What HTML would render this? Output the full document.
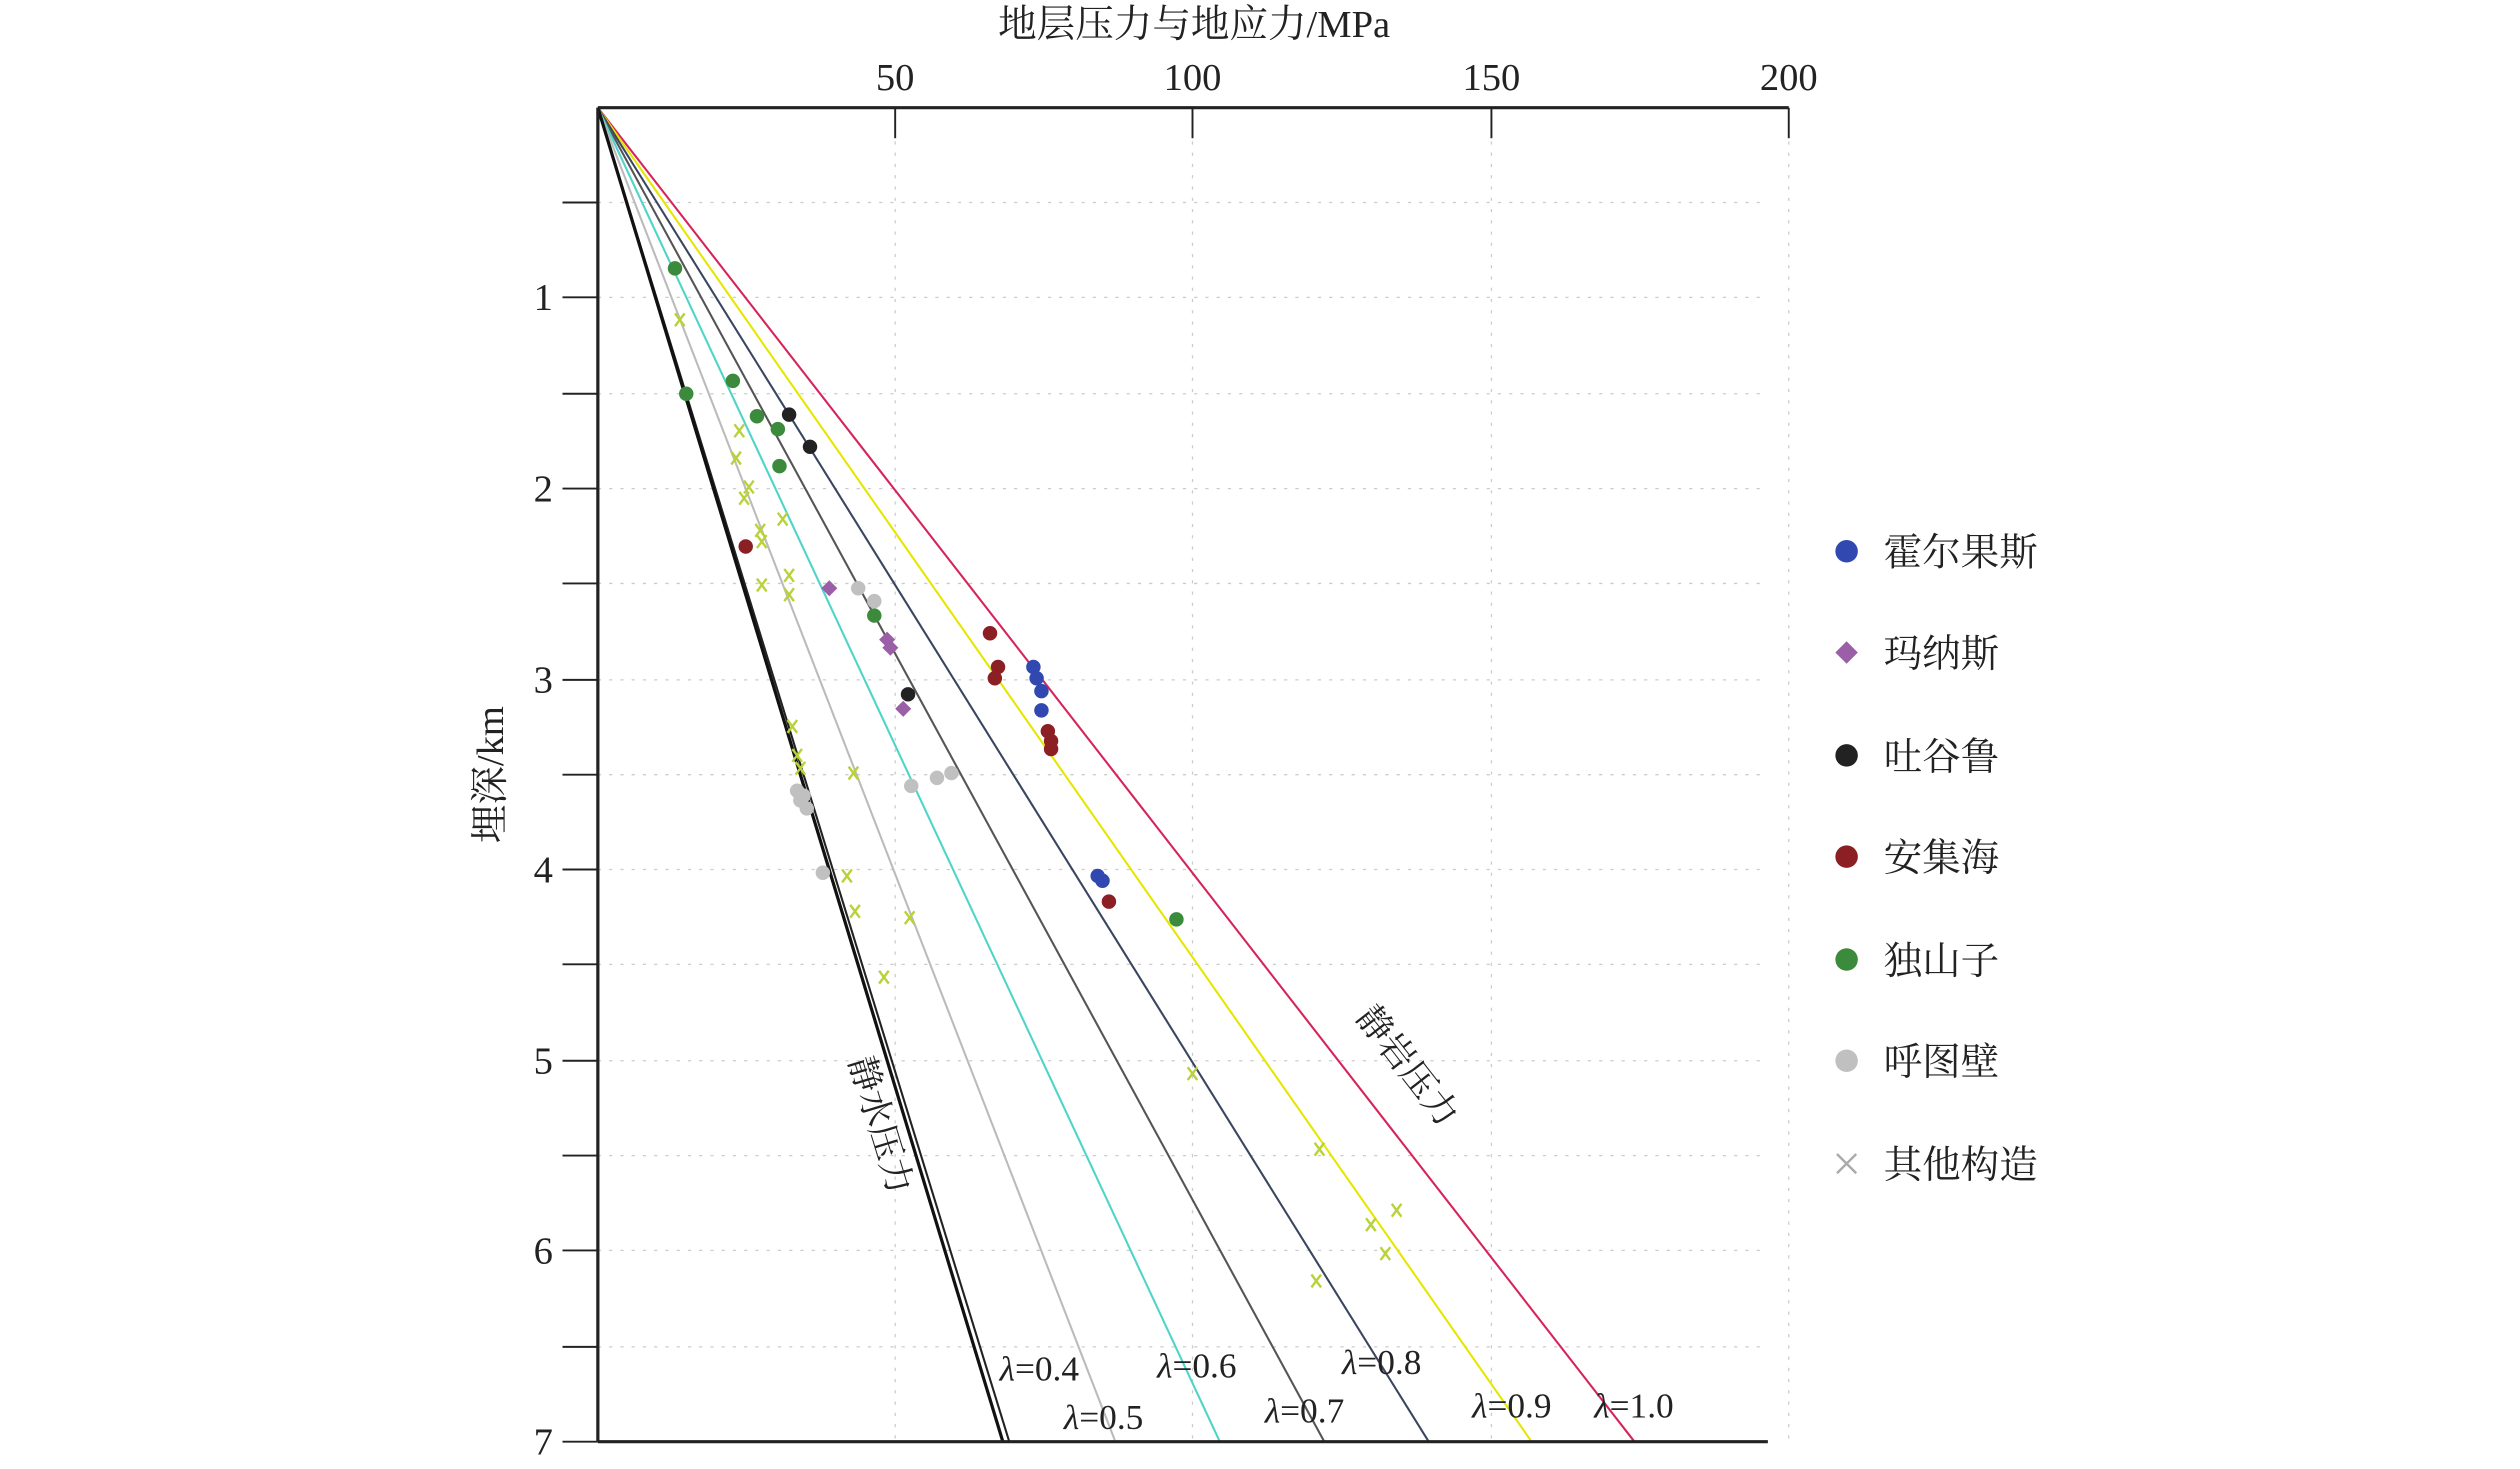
<!DOCTYPE html>
<html><head><meta charset="utf-8"><style>html,body{margin:0;padding:0;background:#fff}svg{display:block}
text{font-family:"Liberation Serif","Noto Serif CJK SC","Noto Sans CJK SC",serif;fill:#222}</style></head>
<body>
<svg width="2520" height="1469" viewBox="0 0 1568 914" preserveAspectRatio="none" xmlns="http://www.w3.org/2000/svg">
<rect width="1568" height="914" fill="#fff"/>
<g stroke="#ccc" stroke-width="0.8" stroke-dasharray="2,5">
<line x1="557" y1="67" x2="557" y2="897"/><line x1="742" y1="67" x2="742" y2="897"/><line x1="928" y1="67" x2="928" y2="897"/><line x1="1113" y1="67" x2="1113" y2="897"/>
<line x1="372" y1="126" x2="1100" y2="126"/><line x1="372" y1="185" x2="1100" y2="185"/><line x1="372" y1="245" x2="1100" y2="245"/><line x1="372" y1="304" x2="1100" y2="304"/><line x1="372" y1="363" x2="1100" y2="363"/><line x1="372" y1="423" x2="1100" y2="423"/><line x1="372" y1="482" x2="1100" y2="482"/><line x1="372" y1="541" x2="1100" y2="541"/><line x1="372" y1="600" x2="1100" y2="600"/><line x1="372" y1="660" x2="1100" y2="660"/><line x1="372" y1="719" x2="1100" y2="719"/><line x1="372" y1="778" x2="1100" y2="778"/><line x1="372" y1="838" x2="1100" y2="838"/>
</g>
<g stroke-width="1.3">
<line x1="372" y1="67" x2="1017" y2="897" stroke="#d6245a"/>
<line x1="372" y1="67" x2="953" y2="897" stroke="#e6e600"/>
<line x1="372" y1="67" x2="889" y2="897" stroke="#3a4560"/>
<line x1="372" y1="67" x2="824" y2="897" stroke="#555"/>
<line x1="372" y1="67" x2="759" y2="897" stroke="#4fd4c8"/>
<line x1="372" y1="67" x2="694" y2="897" stroke="#bbb"/>
<line x1="372" y1="67" x2="628" y2="897" stroke="#222"/>
<line x1="372" y1="67" x2="624" y2="897" stroke="#111" stroke-width="2"/>
</g>
<g stroke="#222" stroke-width="2" fill="none">
<line x1="372" y1="67" x2="1113" y2="67"/><line x1="372" y1="67" x2="372" y2="897"/><line x1="372" y1="897" x2="1100" y2="897"/>
</g>
<g stroke="#222" stroke-width="1.2">
<line x1="557" y1="67" x2="557" y2="86"/><line x1="742" y1="67" x2="742" y2="86"/><line x1="928" y1="67" x2="928" y2="86"/><line x1="1113" y1="67" x2="1113" y2="86"/>
<line x1="350" y1="185" x2="372" y2="185"/><line x1="350" y1="304" x2="372" y2="304"/><line x1="350" y1="423" x2="372" y2="423"/><line x1="350" y1="541" x2="372" y2="541"/><line x1="350" y1="660" x2="372" y2="660"/><line x1="350" y1="778" x2="372" y2="778"/><line x1="350" y1="897" x2="372" y2="897"/>
<line x1="350" y1="126" x2="372" y2="126"/><line x1="350" y1="245" x2="372" y2="245"/><line x1="350" y1="363" x2="372" y2="363"/><line x1="350" y1="482" x2="372" y2="482"/><line x1="350" y1="600" x2="372" y2="600"/><line x1="350" y1="719" x2="372" y2="719"/><line x1="350" y1="838" x2="372" y2="838"/>
</g>
<g font-size="24" text-anchor="middle">
<text x="743" y="23">地层压力与地应力/MPa</text>
<text x="557" y="56">50</text><text x="742" y="56">100</text><text x="928" y="56">150</text><text x="1113" y="56">200</text>
</g>
<g font-size="24" text-anchor="end">
<text x="344" y="193">1</text><text x="344" y="312">2</text><text x="344" y="431">3</text><text x="344" y="549">4</text><text x="344" y="668">5</text><text x="344" y="786">6</text><text x="344" y="905">7</text>
</g>
<text transform="translate(313,482) rotate(-90)" font-size="24" text-anchor="middle">埋深/km</text>
<text transform="translate(528,660) rotate(73)" font-size="22">静水压力</text>
<text transform="translate(843,633) rotate(52)" font-size="22">静岩压力</text>
<g font-size="22" font-style="italic">
<text x="622" y="859">λ<tspan font-style="normal">=0.4</tspan></text>
<text x="662" y="889">λ<tspan font-style="normal">=0.5</tspan></text>
<text x="720" y="857">λ<tspan font-style="normal">=0.6</tspan></text>
<text x="787" y="885">λ<tspan font-style="normal">=0.7</tspan></text>
<text x="835" y="855">λ<tspan font-style="normal">=0.8</tspan></text>
<text x="916" y="882">λ<tspan font-style="normal">=0.9</tspan></text>
<text x="992" y="882">λ<tspan font-style="normal">=1.0</tspan></text>
</g>
<g fill="#c0c0c0">
<circle cx="534" cy="366" r="4.5"/><circle cx="544" cy="374" r="4.5"/><circle cx="567" cy="489" r="4.5"/><circle cx="583" cy="484" r="4.5"/><circle cx="592" cy="481" r="4.5"/><circle cx="496" cy="492" r="4.5"/><circle cx="498" cy="498" r="4.5"/><circle cx="502" cy="503" r="4.5"/><circle cx="512" cy="543" r="4.5"/><circle cx="500" cy="495" r="4.5"/>
</g>
<g stroke="#b8d23a" stroke-width="1.5">
<path d="M420,195l6,8m0-8l-6,8 M457,264l6,8m0-8l-6,8 M455,281l6,8m0-8l-6,8 M463,299l6,8m0-8l-6,8 M460,306l6,8m0-8l-6,8 M484,319l6,8m0-8l-6,8 M471,333l6,8m0-8l-6,8 M471,360l6,8m0-8l-6,8 M488,354l6,8m0-8l-6,8 M488,366l6,8m0-8l-6,8 M490,448l6,8m0-8l-6,8 M493,466l6,8m0-8l-6,8 M495,474l6,8m0-8l-6,8 M528,477l6,8m0-8l-6,8 M524,541l6,8m0-8l-6,8 M529,563l6,8m0-8l-6,8 M563,567l6,8m0-8l-6,8 M547,604l6,8m0-8l-6,8 M739,664l6,8m0-8l-6,8 M818,711l6,8m0-8l-6,8 M850,758l6,8m0-8l-6,8 M866,749l6,8m0-8l-6,8 M859,776l6,8m0-8l-6,8 M816,793l6,8m0-8l-6,8 M470,326l6,8m0-8l-6,8"/>
</g>
<g fill="#9b5fa8"><path d="M516,361l5,5l-5,5l-5,-5z M552,393l5,5l-5,5l-5,-5z M554,398l5,5l-5,5l-5,-5z M562,436l5,5l-5,5l-5,-5z"/></g>
<g fill="#3c8a3c"><circle cx="420" cy="167" r="4.5"/><circle cx="427" cy="245" r="4.5"/><circle cx="456" cy="237" r="4.5"/><circle cx="471" cy="259" r="4.5"/><circle cx="484" cy="267" r="4.5"/><circle cx="485" cy="290" r="4.5"/><circle cx="544" cy="383" r="4.5"/><circle cx="732" cy="572" r="4.5"/></g>
<g fill="#222"><circle cx="491" cy="258" r="4.5"/><circle cx="504" cy="278" r="4.5"/><circle cx="565" cy="432" r="4.5"/></g>
<g fill="#8b1f24"><circle cx="464" cy="340" r="4.5"/><circle cx="616" cy="394" r="4.5"/><circle cx="621" cy="415" r="4.5"/><circle cx="619" cy="422" r="4.5"/><circle cx="652" cy="455" r="4.5"/><circle cx="654" cy="461" r="4.5"/><circle cx="654" cy="466" r="4.5"/><circle cx="690" cy="561" r="4.5"/></g>
<g fill="#3048b0"><circle cx="643" cy="415" r="4.5"/><circle cx="645" cy="422" r="4.5"/><circle cx="648" cy="430" r="4.5"/><circle cx="648" cy="442" r="4.5"/><circle cx="683" cy="545" r="4.5"/><circle cx="686" cy="548" r="4.5"/></g>
<g font-size="24">
<circle cx="1149" cy="343" r="7" fill="#3048b0"/><text x="1172" y="352">霍尔果斯</text>
<path d="M1149,399l7,7l-7,7l-7,-7z" fill="#9b5fa8"/><text x="1172" y="415">玛纳斯</text>
<circle cx="1149" cy="470" r="7" fill="#222"/><text x="1172" y="479">吐谷鲁</text>
<circle cx="1149" cy="533" r="7" fill="#8b1f24"/><text x="1172" y="542">安集海</text>
<circle cx="1149" cy="597" r="7" fill="#3c8a3c"/><text x="1172" y="606">独山子</text>
<circle cx="1149" cy="660" r="7" fill="#c0c0c0"/><text x="1172" y="669">呼图壁</text>
<path d="M1143,718l12,12m0-12l-12,12" stroke="#aaa" stroke-width="1.5"/><text x="1172" y="733">其他构造</text>
</g>
</svg>
</body></html>
